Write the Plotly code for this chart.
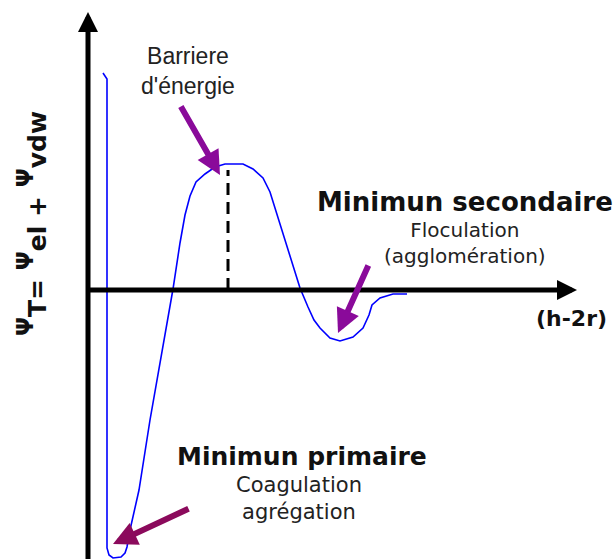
import plotly.graph_objects as go

# distance (h-2r) and total potential, arbitrary units (origin = axis crossing)
h = [1.5, 1.9, 1.9, 2.1, 2.5, 3.3, 3.7, 3.9, 4.2, 5.1, 6.2, 7.4, 8.5, 9.2, 9.7,
     10.2, 10.8, 11.7, 12.7, 13.7, 15.5, 16.5, 17.5, 18.2, 18.9, 20.2, 21.2,
     22.0, 22.6, 23.2, 24.2, 25.2, 26.5, 27.5, 28.1, 28.4, 29.2, 30.5, 31.9]
psi = [21.7, 21.1, -25.8, -26.5, -26.8, -26.7, -26.3, -25.7, -24.0, -20.0,
       -13.0, -6.0, 0.1, 4.7, 7.5, 9.4, 10.8, 11.6, 12.3, 12.6, 12.6, 12.1,
       11.2, 9.8, 7.5, 3.3, 0.2, -1.7, -3.0, -3.8, -4.8, -5.1, -4.7, -3.8,
       -2.5, -1.5, -0.8, -0.4, -0.4]

barrier_h = 14.0
barrier_psi = 12.0

# pointer arrows: (tail, tip)
arrow_barrier = [(9.2, 18.5), (13.2, 11.5)]
arrow_secondary = [(28.1, 2.6), (25.0, -4.3)]
arrow_primary = [(10.2, -21.8), (2.5, -25.4)]

x_range = [-8.8, 52.8]
y_range = [-26.9, 29.0]
x_axis_end = 48.9
y_axis_end = 27.8

fig = go.Figure()

fig.add_trace(go.Scatter(x=h, y=psi, mode='lines',
                         line=dict(color='#0000ff', width=1.6),
                         hoverinfo='skip'))
fig.add_trace(go.Scatter(x=[barrier_h, barrier_h], y=[0, barrier_psi], mode='lines',
                         line=dict(color='black', width=3, dash='12px,7px'),
                         hoverinfo='skip'))

annotations = []

# axes drawn as arrows
annotations.append(dict(x=x_axis_end, y=0, ax=0, ay=0, xref='x', yref='y',
                        axref='x', ayref='y', text='', showarrow=True,
                        arrowhead=2, arrowsize=0.8, arrowwidth=5, arrowcolor='black'))
annotations.append(dict(x=0, y=y_axis_end, ax=0, ay=y_range[0] - 1, xref='x', yref='y',
                        axref='x', ayref='y', text='', showarrow=True,
                        arrowhead=2, arrowsize=0.8, arrowwidth=5, arrowcolor='black'))

for (tail, tip), col in [(arrow_barrier, '#8a0a9a'),
                         (arrow_secondary, '#8a0a9a'),
                         (arrow_primary, '#8b0a5c')]:
    annotations.append(dict(x=tip[0], y=tip[1], ax=tail[0], ay=tail[1],
                            xref='x', yref='y', axref='x', ayref='y', text='',
                            showarrow=True, arrowhead=2, arrowsize=0.8,
                            arrowwidth=6, arrowcolor=col))

sans = 'DejaVu Sans'
psi_sym = '<span style="font-size:32px"><sup>Ψ</sup></span>'
annotations += [
    dict(x=10.0, y=21.9, text="Barriere<br>d'énergie", showarrow=False,
         font=dict(family='Liberation Sans', size=23, color='#222')),
    dict(x=37.7, y=8.8, text='Minimun secondaire', showarrow=False,
         font=dict(family=sans, size=26, color='#111', weight='bold')),
    dict(x=37.7, y=4.75, text='Floculation<br>(agglomération)', showarrow=False,
         font=dict(family=sans, size=20, color='#222')),
    dict(x=48.3, y=-2.8, text='(h-2r)', showarrow=False,
         font=dict(family=sans, size=22, color='#111', weight='bold')),
    dict(x=21.4, y=-16.6, text='Minimun primaire', showarrow=False,
         font=dict(family=sans, size=25, color='#111', weight='bold')),
    dict(x=21.1, y=-20.8, text='Coagulation<br>agrégation', showarrow=False,
         font=dict(family=sans, size=21, color='#222')),
    dict(x=-5.6, y=6.6, textangle=-90, showarrow=False,
         text=psi_sym + 'T= ' + psi_sym + 'el + ' + psi_sym + 'vdw',
         font=dict(family=sans, size=25, color='#111', weight='bold')),
]

fig.update_layout(
    width=616, height=559,
    margin=dict(l=0, r=0, t=0, b=0),
    paper_bgcolor='white', plot_bgcolor='white',
    showlegend=False,
    xaxis=dict(range=x_range, visible=False, fixedrange=True),
    yaxis=dict(range=y_range, visible=False, fixedrange=True),
    annotations=annotations,
)

# drop the page's default body margin so the figure sits at the window corner
fig.write_html("out.html", config={'displayModeBar': False},
               post_script="document.body.style.margin='0';")
